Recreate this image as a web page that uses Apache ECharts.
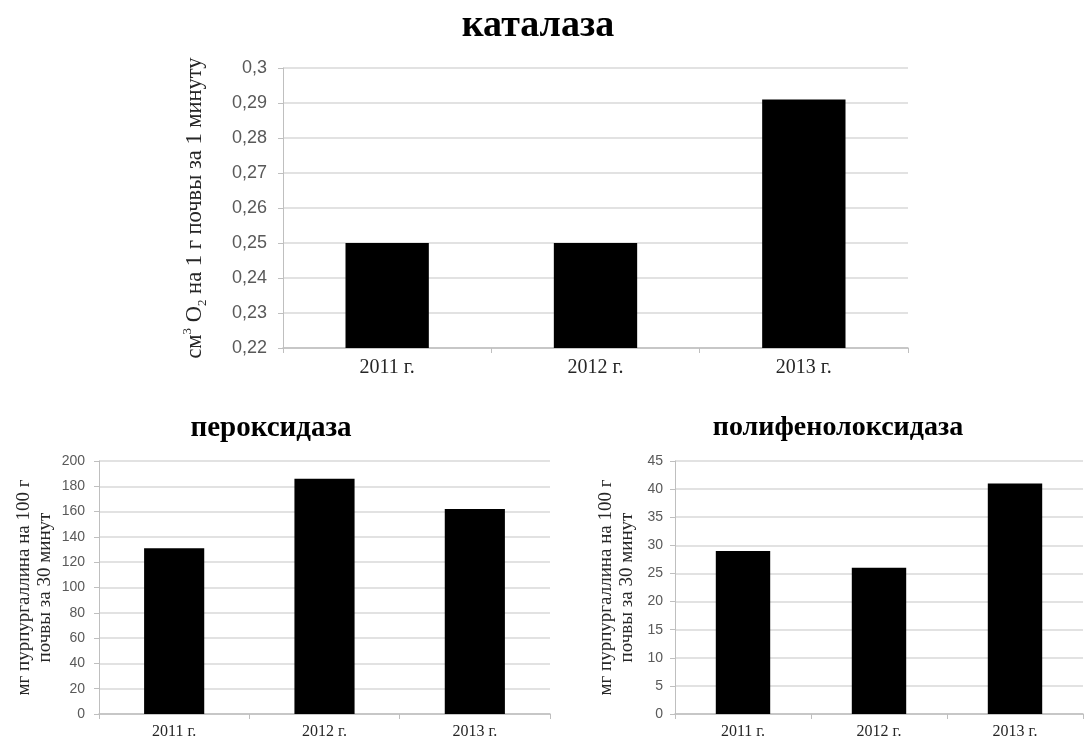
<!DOCTYPE html>
<html>
<head>
<meta charset="utf-8">
<script src="https://cdn.jsdelivr.net/npm/echarts@6/dist/echarts.min.js"></script>
<style>
  html, body { margin: 0; padding: 0; background: #ffffff; }
  #chart { width: 1088px; height: 742px; }
</style>
</head>
<body>
<div id="chart"></div>
<script>
// Years of observation
const years = ['2011 г.', '2012 г.', '2013 г.'];

// Enzyme activity by year
const catalase = [0.25, 0.25, 0.291];          // см³ O₂ на 1 г почвы за 1 минуту
const peroxidase = [131, 186, 162];            // мг пурпургаллина на 100 г почвы за 30 минут
const polyphenoloxidase = [29, 26, 41];        // мг пурпургаллина на 100 г почвы за 30 минут

// Value-axis ranges: [min, max, step]
const catalaseAxis = [0.22, 0.30, 0.01];
const peroxidaseAxis = [0, 200, 20];
const polyphenolAxis = [0, 45, 5];

const titles = ['каталаза', 'пероксидаза', 'полифенолоксидаза'];
const bottomAxisName = 'мг пурпургаллина на 100 г\nпочвы за 30 минут';

const SERIF = '"Liberation Serif", "Times New Roman", serif';
const SANS = '"Liberation Sans", Arial, sans-serif';
const GRID_COLOR = '#d9d9d9';
const AXIS_COLOR = '#bfbfbf';
const TICK_TEXT = '#595959';

function commaNum(v) {
  return String(Math.round(v * 1000) / 1000).replace('.', ',');
}

function valueAxis(gridIndex, range, labelSize, margin, formatter) {
  return {
    type: 'value',
    gridIndex: gridIndex,
    min: range[0],
    max: range[1],
    interval: range[2],
    axisLine: { show: true, lineStyle: { color: AXIS_COLOR, width: 1 } },
    axisTick: { show: true, length: 5, lineStyle: { color: AXIS_COLOR } },
    splitLine: { show: true, lineStyle: { color: GRID_COLOR, width: 1.5 } },
    axisLabel: {
      color: TICK_TEXT,
      fontFamily: SANS,
      fontSize: labelSize,
      margin: margin,
      formatter: formatter
    }
  };
}

function categoryAxis(gridIndex, labelSize, margin) {
  return {
    type: 'category',
    gridIndex: gridIndex,
    data: years,
    axisLine: { show: true, lineStyle: { color: AXIS_COLOR, width: 1.5 } },
    axisTick: { show: true, length: 5, lineStyle: { color: AXIS_COLOR } },
    axisLabel: {
      color: '#262626',
      fontFamily: SERIF,
      fontSize: labelSize,
      margin: margin
    }
  };
}

const chart = echarts.init(document.getElementById('chart'), null, { renderer: 'canvas' });

const yTop = valueAxis(0, catalaseAxis, 18, 16, commaNum);
yTop.name = '{t|см}{sup|3}{t| O}{sub|2}{t| на 1 г почвы за 1 минуту}';
yTop.nameLocation = 'middle';
yTop.nameRotate = 90;
yTop.nameGap = 74;
yTop.nameTextStyle = {
  fontFamily: SERIF,
  color: '#262626',
  rich: {
    t: { fontFamily: SERIF, fontSize: 22.5, color: '#262626', lineHeight: 28 },
    sup: { fontFamily: SERIF, fontSize: 13, color: '#262626', verticalAlign: 'top', lineHeight: 28 },
    sub: { fontFamily: SERIF, fontSize: 13, color: '#262626', verticalAlign: 'bottom', lineHeight: 28 }
  }
};

const yLeft = valueAxis(1, peroxidaseAxis, 14, 14, null);
yLeft.name = bottomAxisName;
yLeft.nameLocation = 'middle';
yLeft.nameRotate = 90;
yLeft.nameGap = 43;
yLeft.nameTextStyle = { fontFamily: SERIF, fontSize: 19, color: '#262626', lineHeight: 21 };

const yRight = valueAxis(2, polyphenolAxis, 14, 12, null);
yRight.name = bottomAxisName;
yRight.nameLocation = 'middle';
yRight.nameRotate = 90;
yRight.nameGap = 37;
yRight.nameTextStyle = { fontFamily: SERIF, fontSize: 19, color: '#262626', lineHeight: 21 };

function barSeries(index, data) {
  return {
    type: 'bar',
    xAxisIndex: index,
    yAxisIndex: index,
    data: data,
    barWidth: '40%',
    itemStyle: { color: '#000000' },
    silent: true
  };
}

chart.setOption({
  animation: false,
  backgroundColor: '#ffffff',
  title: [
    {
      text: titles[0], left: 533, top: 2, textAlign: 'center',
      textStyle: { fontFamily: SERIF, fontWeight: 'bold', fontSize: 38, color: '#000000' }
    },
    {
      text: titles[1], left: 266, top: 409, textAlign: 'center',
      textStyle: { fontFamily: SERIF, fontWeight: 'bold', fontSize: 29, color: '#000000' }
    },
    {
      text: titles[2], left: 833, top: 409, textAlign: 'center',
      textStyle: { fontFamily: SERIF, fontWeight: 'bold', fontSize: 28, color: '#000000' }
    }
  ],
  grid: [
    { left: 283, top: 68, width: 625, height: 280 },
    { left: 99, top: 461, width: 451, height: 253 },
    { left: 675, top: 461, width: 408, height: 253 }
  ],
  xAxis: [
    categoryAxis(0, 20, 10),
    categoryAxis(1, 16, 10),
    categoryAxis(2, 16, 10)
  ],
  yAxis: [yTop, yLeft, yRight],
  series: [
    barSeries(0, catalase),
    barSeries(1, peroxidase),
    barSeries(2, polyphenoloxidase)
  ]
});
</script>
</body>
</html>
